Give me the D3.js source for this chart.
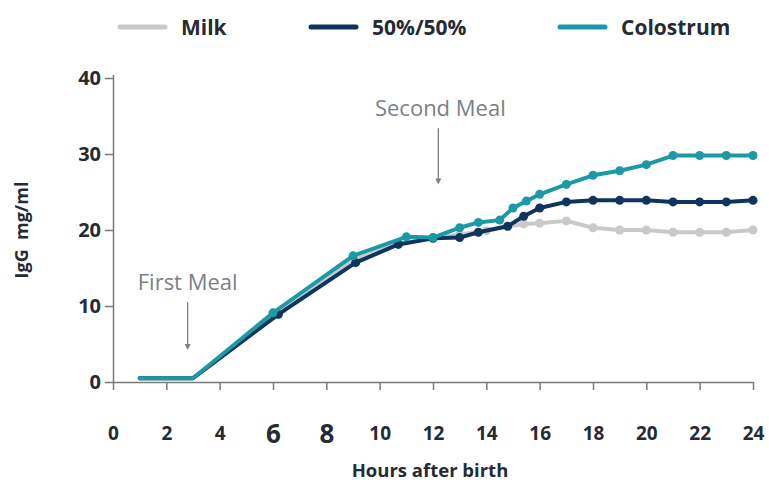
<!DOCTYPE html>
<html>
<head>
<meta charset="utf-8">
<script src="https://cdn.jsdelivr.net/npm/d3@7"></script>
<style>
  html, body { margin: 0; padding: 0; background: #fff; }
  svg { display: block; font-family: "Open Sans", Roboto, sans-serif; }
</style>
</head>
<body>
<svg id="chart" width="769" height="482"></svg>
<script>
// Serum IgG after feeding, by hours after birth
const seriesNames = ["Milk", "50%/50%", "Colostrum"];
const seriesColors = ["#c9c9c9", "#0d355e", "#1b9aa6"];

const milkHours = [1, 3, 6.2, 9, 10.7, 12, 13, 14, 14.8, 15.4, 16, 17, 18, 19, 20, 21, 22, 23, 24];
const milkIgG   = [0.5, 0.5, 8.9, 16.0, 18.2, 19.0, 19.4, 19.9, 20.5, 20.8, 20.9, 21.2, 20.3, 20.0, 20.0, 19.7, 19.7, 19.7, 20.0];

const mixHours = [1, 3, 6.2, 9.1, 10.7, 12, 13, 13.7, 14.8, 15.4, 16, 17, 18, 19, 20, 21, 22, 23, 24];
const mixIgG   = [0.5, 0.5, 8.9, 15.7, 18.1, 18.9, 19.0, 19.7, 20.5, 21.8, 22.9, 23.7, 23.9, 23.9, 23.9, 23.7, 23.7, 23.7, 23.9];

const colHours = [1, 3, 6, 9, 11, 12, 13, 13.7, 14.5, 15, 15.5, 16, 17, 18, 19, 20, 21, 22, 23, 24];
const colIgG   = [0.5, 0.5, 9.1, 16.6, 19.1, 19.0, 20.3, 21.0, 21.3, 22.9, 23.8, 24.7, 26.0, 27.2, 27.8, 28.6, 29.8, 29.8, 29.8, 29.8];

const xTicks = [0, 2, 4, 6, 8, 10, 12, 14, 16, 18, 20, 22, 24];
const xTicksLarge = [6, 8];
const yTicks = [0, 10, 20, 30, 40];

// Meal annotations: label, hour, arrow top and bottom (IgG units)
const mealLabels = ["First Meal", "Second Meal"];
const mealHours = [2.8, 12.2];
const mealArrowTop = [10.5, 33.4];
const mealArrowBottom = [4.2, 26.0];

const svg = d3.select("#chart");
const x = d3.scaleLinear().domain([0, 24]).range([113, 753]);
const y = d3.scaleLinear().domain([0, 40]).range([382, 78]);
const axisColor = "#7a7a7a";
const textColor = "#262a33";

// Axes
const gx = svg.append("g").attr("transform", `translate(0,${y(0)})`)
  .call(d3.axisBottom(x).tickValues(xTicks).tickSize(8).tickSizeOuter(0));
gx.select(".domain").attr("stroke", axisColor).attr("stroke-width", 1.5);
gx.selectAll(".tick line").attr("stroke", axisColor).attr("stroke-width", 1.5);
gx.selectAll(".tick text")
  .attr("fill", textColor)
  .style("font-family", "'Open Sans', sans-serif")
  .style("font-weight", 700)
  .style("font-size", d => xTicksLarge.includes(d) ? "26px" : "19px")
  .attr("dy", null)
  .attr("y", d => xTicksLarge.includes(d) ? 61 : 58);

const gy = svg.append("g").attr("transform", `translate(${x(0)},0)`)
  .call(d3.axisLeft(y).tickValues(yTicks).tickSize(8).tickPadding(4).tickSizeOuter(0));
gy.select(".domain").attr("stroke", axisColor).attr("stroke-width", 1.5)
  .attr("d", `M0.5,${y(0)}V${y(40) - 3}`);
gy.selectAll(".tick line").attr("stroke", axisColor).attr("stroke-width", 1.5);
gy.selectAll(".tick text")
  .attr("fill", textColor)
  .style("font-family", "'Open Sans', sans-serif")
  .style("font-weight", 700)
  .style("font-size", "20px");

// Axis titles
svg.append("text")
  .attr("x", 430).attr("y", 477)
  .attr("text-anchor", "middle")
  .attr("fill", textColor)
  .style("font-weight", 700).style("font-size", "18.5px")
  .text("Hours after birth");

svg.append("text")
  .attr("transform", `translate(28,${(y(0) + y(40)) / 2}) rotate(-90)`)
  .attr("text-anchor", "middle")
  .attr("fill", textColor)
  .style("font-weight", 700).style("font-size", "18px")
  .attr("xml:space", "preserve")
  .text("IgG  mg/ml");

// Meal annotations
mealLabels.forEach((label, i) => {
  const ax = x(mealHours[i]);
  svg.append("text")
    .attr("x", i === 0 ? ax : ax + 2)
    .attr("y", y(mealArrowTop[i]) - 12)
    .attr("text-anchor", "middle")
    .attr("fill", "#7b7f86")
    .style("font-size", "22px")
    .text(label);
  svg.append("line")
    .attr("x1", ax).attr("x2", ax)
    .attr("y1", y(mealArrowTop[i])).attr("y2", y(mealArrowBottom[i]) - 3)
    .attr("stroke", "#7b7f86").attr("stroke-width", 1.3);
  svg.append("path")
    .attr("d", `M${ax - 3},${y(mealArrowBottom[i]) - 6}L${ax},${y(mealArrowBottom[i])}L${ax + 3},${y(mealArrowBottom[i]) - 6}Z`)
    .attr("fill", "#7b7f86");
});

// Series lines and markers
const allHours = [milkHours, mixHours, colHours];
const allIgG = [milkIgG, mixIgG, colIgG];
const line = d3.line().x(d => x(d[0])).y(d => y(d[1])).curve(d3.curveLinear);

seriesNames.forEach((name, i) => {
  const pts = allHours[i].map((h, j) => [h, allIgG[i][j]]);
  const g = svg.append("g");
  g.append("path")
    .attr("d", line(pts))
    .attr("fill", "none")
    .attr("stroke", seriesColors[i])
    .attr("stroke-width", 4)
    .attr("stroke-linecap", "round")
    .attr("stroke-linejoin", "round");
  // markers only after the first meal
  g.selectAll("circle").data(pts.filter(p => p[0] > 3)).join("circle")
    .attr("cx", d => x(d[0])).attr("cy", d => y(d[1]))
    .attr("r", 4.5)
    .attr("fill", seriesColors[i]);
});

// Legend
const legendX = [120, 311, 560];
seriesNames.forEach((name, i) => {
  svg.append("line")
    .attr("x1", legendX[i]).attr("x2", legendX[i] + 45)
    .attr("y1", 27).attr("y2", 27)
    .attr("stroke", seriesColors[i]).attr("stroke-width", 5)
    .attr("stroke-linecap", "round");
  svg.append("text")
    .attr("x", legendX[i] + 61).attr("y", 35)
    .attr("fill", textColor)
    .style("font-weight", 700).style("font-size", "21px")
    .text(name);
});
</script>
</body>
</html>
